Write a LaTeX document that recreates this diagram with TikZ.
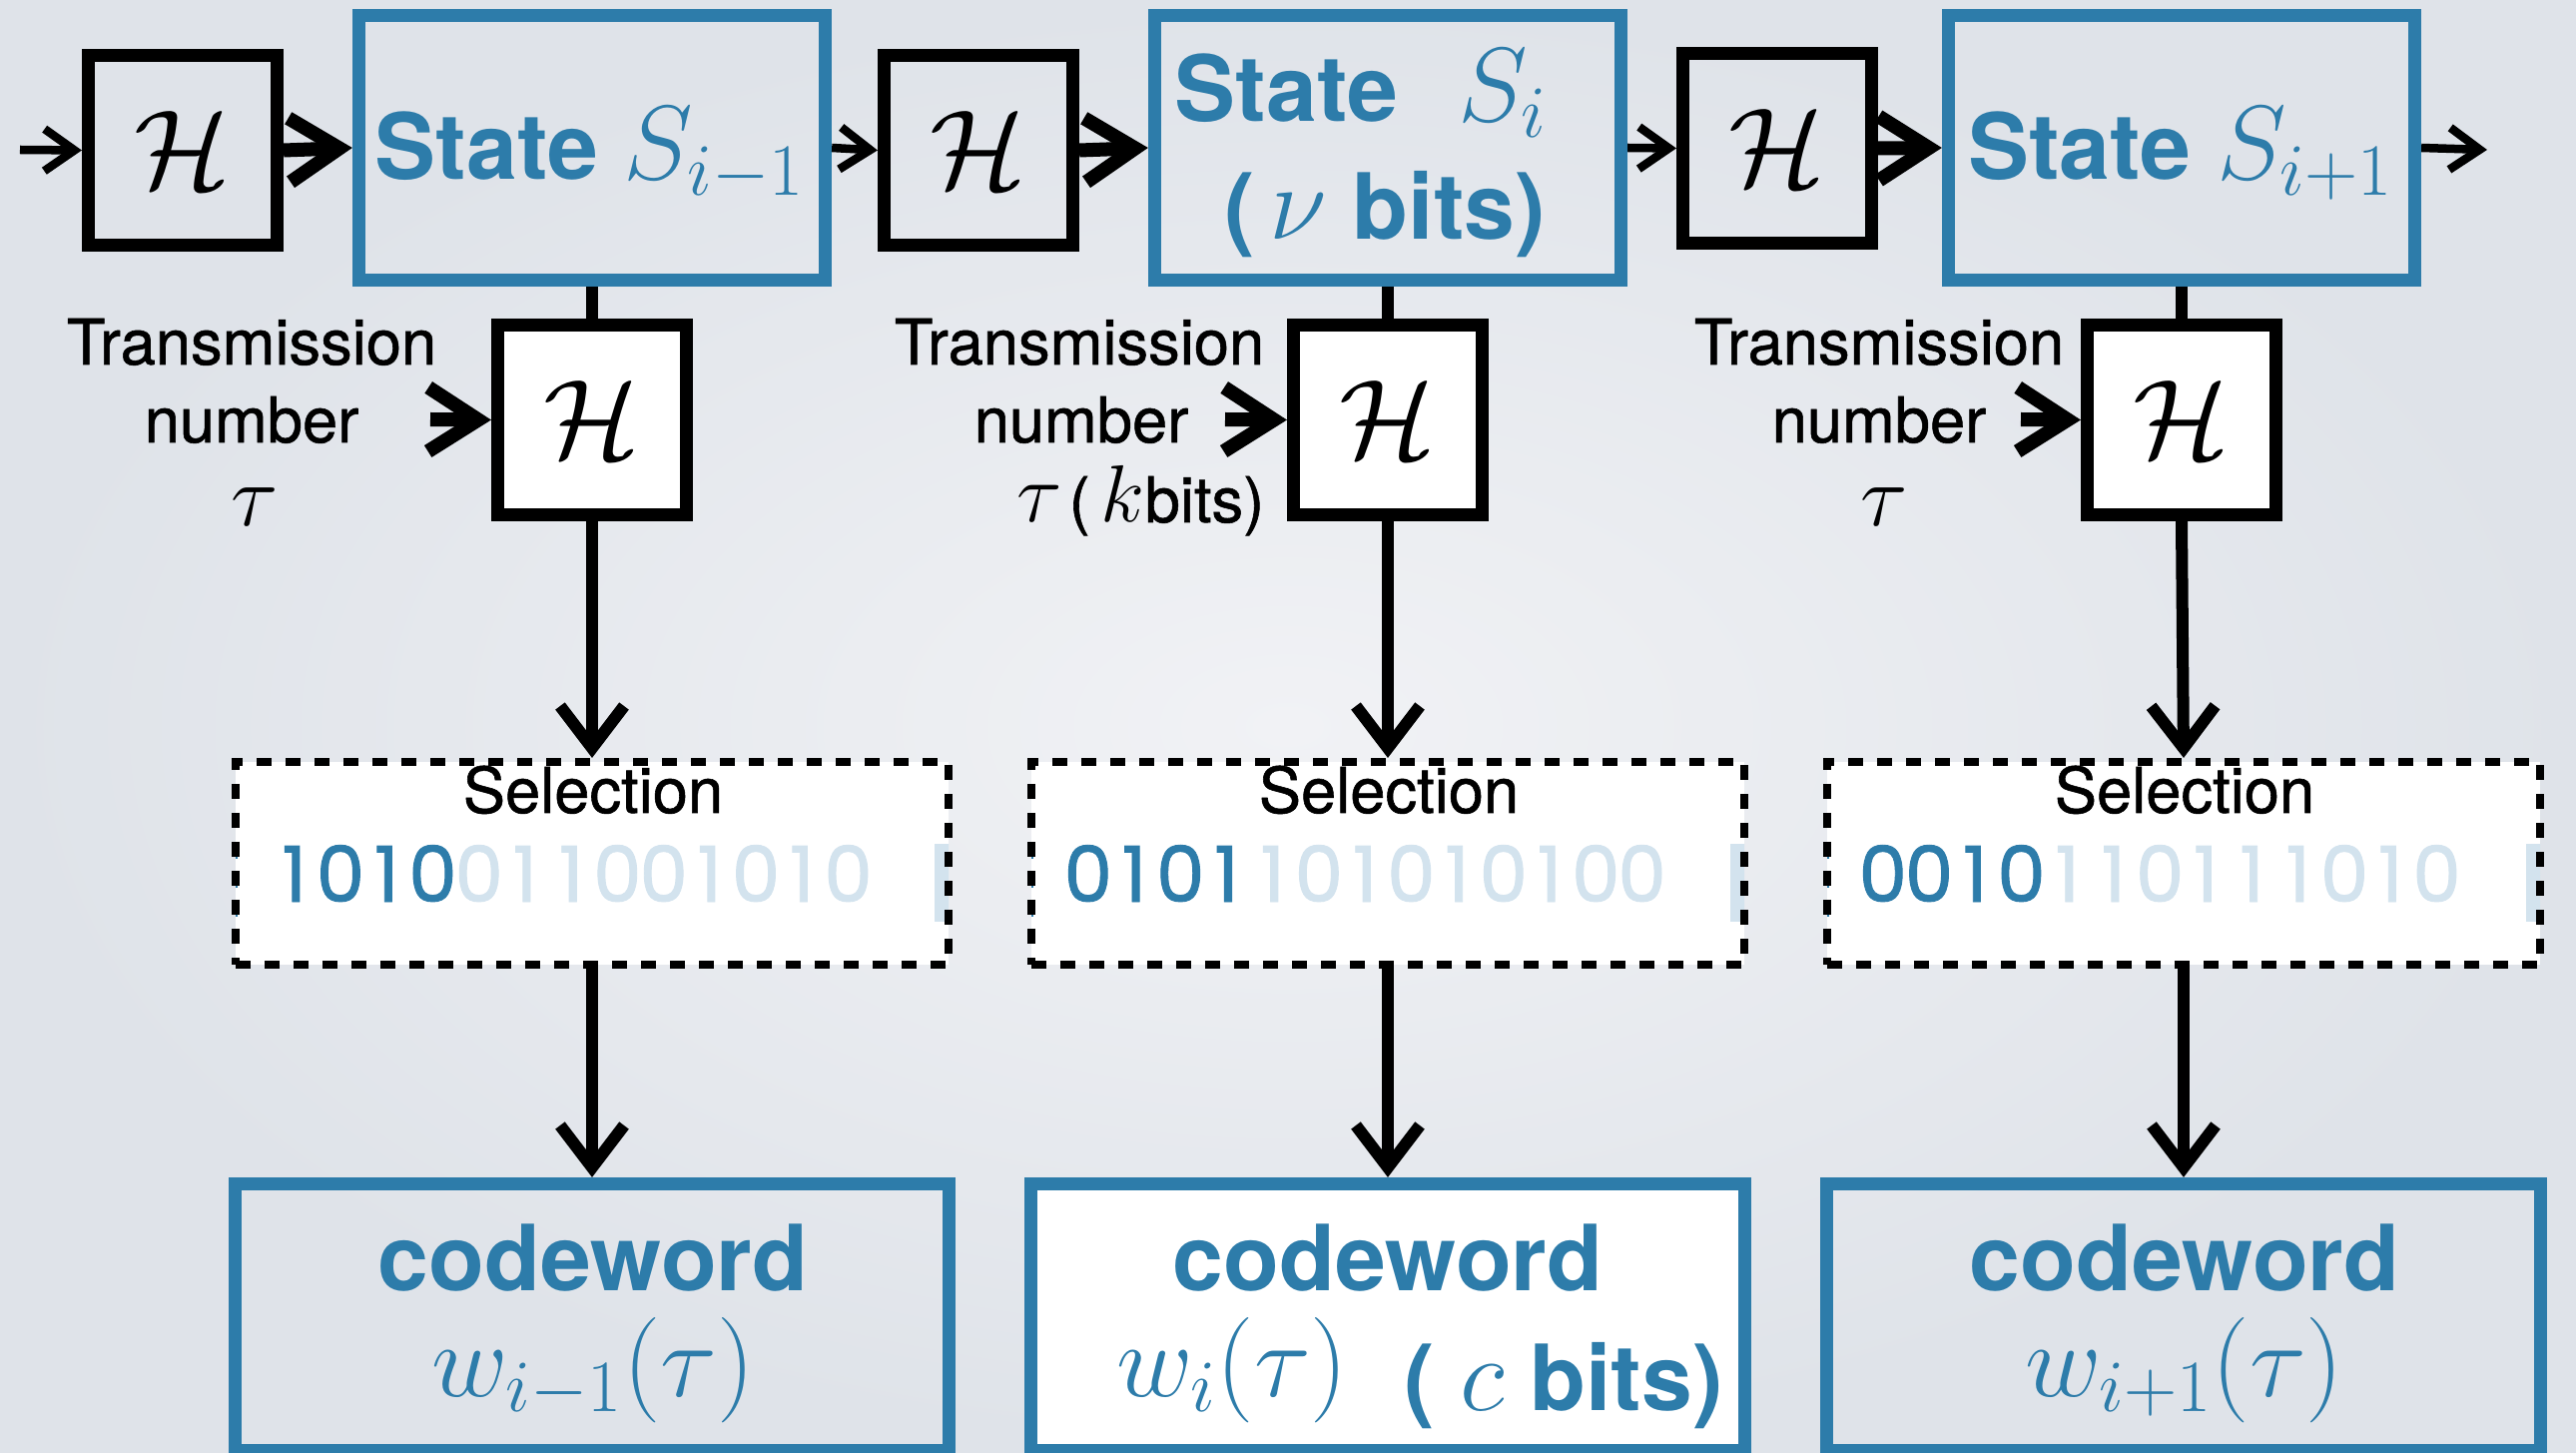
\RequirePackage{fix-cm}
\documentclass[tikz,border=0pt]{standalone}
\usepackage[no-math]{fontspec}
\setmainfont{TeX Gyre Heros}
\newfontfamily\digitfont[FakeBold=1.2]{Poppins}
\newfontfamily\medfont[FakeBold=0.9]{TeX Gyre Heros}
\usetikzlibrary{arrows.meta}
\definecolor{cblue}{RGB}{45,124,170}
\definecolor{lblue}{RGB}{211,227,238}
\definecolor{bgA}{RGB}{241,242,245}
\definecolor{bgB}{RGB}{223,227,233}
\newcommand\fs[1]{\fontsize{#1}{#1}\selectfont}
\def\dgs#1{\ifx#1\relax\else\makebox[0.462cm]{#1}\expandafter\dgs\fi}
\newcommand\mth[1]{{\fs{30}$#1$}}
\begin{document}
\begin{tikzpicture}[x=0.01cm, y=-0.01cm,
  hbox/.style={draw=black, line width=0.13cm, minimum width=1.89cm, minimum height=1.90cm, inner sep=0pt, font=\fs{32}},
  hwhite/.style={hbox, fill=white},
  statebox/.style={draw=cblue, line width=0.13cm, minimum width=4.67cm, minimum height=2.65cm, inner sep=0pt},
  selbox/.style={draw=black, line width=0.08cm, dash pattern=on 0.15cm off 0.14cm, fill=white,
    minimum width=7.14cm, minimum height=2.03cm, inner sep=0pt,
    path picture={
      \fill[lblue] ([xshift=-0.14cm,yshift=0.195cm]path picture bounding box.east) rectangle ([xshift=0.02cm,yshift=-0.585cm]path picture bounding box.east);
      \draw[cblue, line width=0.015cm] ([xshift=0.01cm,yshift=0.195cm]path picture bounding box.west) -- ([xshift=0.01cm,yshift=-0.585cm]path picture bounding box.west);
    }},
  cwbox/.style={draw=cblue, line width=0.13cm, minimum width=7.14cm, minimum height=2.665cm, inner sep=0pt},
  thinarrow/.style={line width=0.085cm, -{Straight Barb[length=0.3cm,width=0.42cm]}},
  thickarrow/.style={line width=0.14cm, -{Straight Barb[length=0.5cm,width=0.64cm]}},
  varrow/.style={line width=0.12cm, -{Straight Barb[length=0.42cm,width=0.64cm]}},
  vline/.style={line width=0.12cm},
  bluetxt/.style={text=cblue, font=\fs{26}\bfseries, inner sep=0pt},
  lbl/.style={font=\fs{18}\medfont, inner sep=0pt},
  bits/.style={font=\fs{22}\digitfont, inner sep=0pt}
]
\useasboundingbox (0,0) rectangle (2580,1455);
\shade[inner color=bgA, outer color=bgB] (0,0) rectangle (2580,1455);

% top row
\coordinate (in) at (20,150);
\coordinate (out) at (2491,150);
\node[hbox] (h1) at (183,150.5) {$\mathcal{H}$};
\node[hbox] (h2) at (980,150.5) {$\mathcal{H}$};
\node[hbox] (h3) at (1780,148.5) {$\mathcal{H}$};
\node[statebox] (s1) at (593,148) {};
\node[statebox] (s2) at (1390,148) {};
\node[statebox] (s3) at (2185,148) {};

\node[bluetxt, anchor=base] (s1t) at (591,180) {State \mth{S_{i-1}}};
\node[bluetxt, anchor=base west] (s2t) at (1176,122) {State\hspace{0.6cm}\mth{S_i}};
\node[bluetxt, anchor=base] (s2b) at (1387,240) {(\,\mth{\nu} bits)};
\node[bluetxt, anchor=base] (s3t) at (2184,180) {State \mth{S_{i+1}}};

\draw[thinarrow] (in) -- (h1.west);
\draw[thickarrow] (h1.east) -- (s1.west);
\draw[thinarrow] (s1.east) -- (h2.west);
\draw[thickarrow] (h2.east) -- (s2.west);
\draw[thinarrow] (s2.east) -- (h3.west);
\draw[thickarrow] (h3.east) -- (s3.west);
\draw[thinarrow] (s3.east) -- (out);

% middle H boxes
\node[hwhite] (m1) at (593,420.5) {$\mathcal{H}$};
\node[hwhite] (m2) at (1390,420.5) {$\mathcal{H}$};
\node[hwhite] (m3) at (2185,420.5) {$\mathcal{H}$};
\draw[vline] (s1.south) -- (m1.north);
\draw[vline] (s2.south) -- (m2.north);
\draw[vline] (s3.south) -- (m3.north);

% transmission labels
\node[lbl, anchor=base] (a1) at (252,365) {Transmission};
\node[lbl, anchor=base] (b1) at (252,443) {number};
\node[lbl, anchor=base] (c1) at (255,527) {\fs{25}$\tau$};
\node[lbl, anchor=base] (a2) at (1081,365) {Transmission};
\node[lbl, anchor=base] (b2) at (1083,443) {number};
\node[lbl, anchor=base east] (c2) at (1267,523) {{\fs{24}$\tau$}\hspace{0.07cm}(\hspace{0.11cm}{\fs{23}$k$}bits)};
\node[lbl, anchor=base] (a3) at (1882,365) {Transmission};
\node[lbl, anchor=base] (b3) at (1882,443) {number};
\node[lbl, anchor=base] (c3) at (1887,527) {\fs{25}$\tau$};
\coordinate (t1) at (431,420);
\coordinate (t2) at (1227,420);
\coordinate (t3) at (2024,420);
\draw[thickarrow] (t1) -- (m1.west);
\draw[thickarrow] (t2) -- (m2.west);
\draw[thickarrow] (t3) -- (m3.west);

% selection boxes
\node[selbox] (sel1) at (593,864.5) {};
\node[selbox] (sel2) at (1390,864.5) {};
\node[selbox] (sel3) at (2187,864.5) {};
\node[lbl, anchor=base] (st1) at (594,814) {Selection};
\node[lbl, anchor=base] (st2) at (1391,814) {Selection};
\node[lbl, anchor=base] (st3) at (2188,814) {Selection};
\node[bits, anchor=base west] (d1) at (271,903) {\textcolor{cblue}{\dgs 1010\relax}\textcolor{lblue}{\dgs 011001010\relax}};
\node[bits, anchor=base west] (d2) at (1066,903) {\textcolor{cblue}{\dgs 0101\relax}\textcolor{lblue}{\dgs 101010100\relax}};
\node[bits, anchor=base west] (d3) at (1862,903) {\textcolor{cblue}{\dgs 0010\relax}\textcolor{lblue}{\dgs 110111010\relax}};
\draw[varrow] (m1.south) -- (sel1.north);
\draw[varrow] (m2.south) -- (sel2.north);
\draw[varrow] (m3.south) -- (sel3.north);

% codeword boxes
\node[cwbox] (cw1) at (593,1318.75) {};
\node[cwbox, fill=white] (cw2) at (1390,1318.75) {};
\node[cwbox] (cw3) at (2187,1318.75) {};
\draw[varrow] (sel1.south) -- (cw1.north);
\draw[varrow] (sel2.south) -- (cw2.north);
\draw[varrow] (sel3.south) -- (cw3.north);
\node[bluetxt, anchor=base] (cwt1) at (594,1292) {codeword};
\node[bluetxt, anchor=base] (cwt2) at (1390,1292) {codeword};
\node[bluetxt, anchor=base] (cwt3) at (2188,1292) {codeword};
\node[bluetxt, anchor=base] (w1) at (594,1398) {\mth{w_{i-1}(\tau)}};
\node[bluetxt, anchor=base west] (w2) at (1118,1398) {\mth{w_i(\tau)}};
\node[bluetxt, anchor=base west] (w2b) at (1406,1412) {( \mth{c} bits)};
\node[bluetxt, anchor=base] (w3) at (2188,1398) {\mth{w_{i+1}(\tau)}};
\end{tikzpicture}
\end{document}
